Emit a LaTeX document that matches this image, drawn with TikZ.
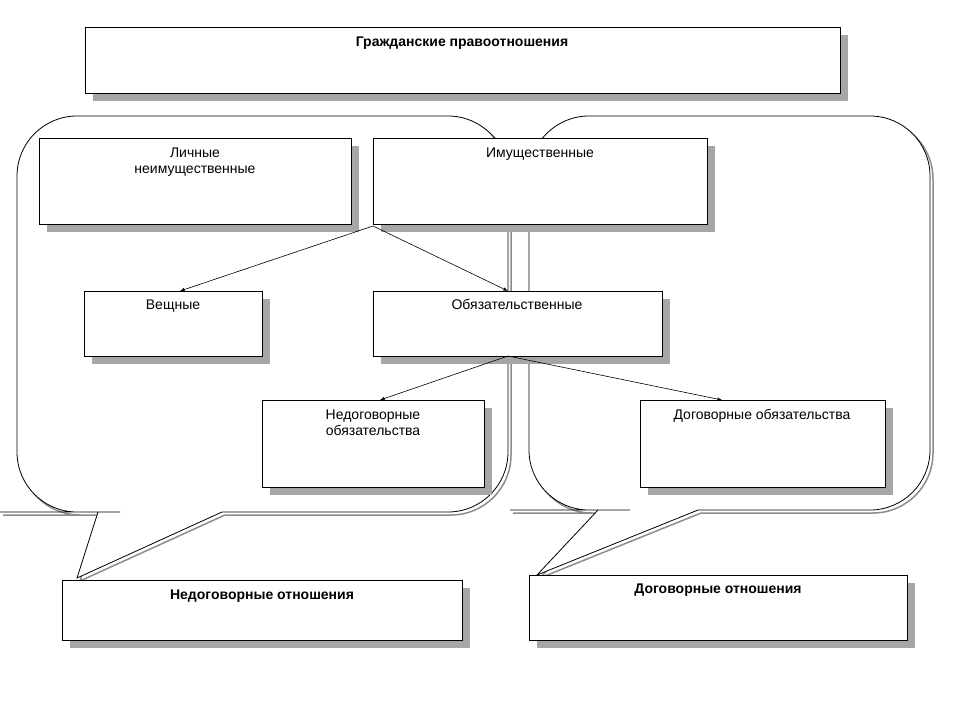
\documentclass[tikz,border=0pt]{standalone}
\usepackage{fontspec}
\setmainfont{Liberation Sans}
\begin{document}
\begin{tikzpicture}[x=1pt,y=-1pt,
  box/.style={draw,fill=white,line width=0.8pt},
  shad/.style={fill=black!35,draw=none},
  lbl/.style={anchor=north,align=center,font=\fontsize{14}{16}\selectfont},
  blbl/.style={anchor=north,align=center,font=\fontsize{14}{16}\selectfont\bfseries},
  arr/.style={-latex,line width=0.6pt},
  call/.style={line width=0.8pt,rounded corners=60}]
\useasboundingbox (0,0) rectangle (960,720);
% callouts
\draw[call,black!45,line width=1.5pt,shift={(3,3)}] (17,300) -- (17,512) -- (60,512) {[sharp corners] -- (98,512) -- (77,578) -- (222,512) -- (300,512)} -- (508,512) -- (508,116) -- (17,116) -- cycle;
\draw[call,fill=white] (17,300) -- (17,512) -- (60,512) {[sharp corners] -- (98,512) -- (77,578) -- (222,512) -- (300,512)} -- (508,512) -- (508,116) -- (17,116) -- cycle;
\draw[call,black!45,line width=1.5pt,shift={(3,3)}] (529,300) -- (529,510) -- (570,510) {[sharp corners] -- (598,510) -- (537,575) -- (698,510) -- (750,510)} -- (930,510) -- (930,116) -- (529,116) -- cycle;
\draw[call,fill=white] (529,300) -- (529,510) -- (570,510) {[sharp corners] -- (598,510) -- (537,575) -- (698,510) -- (750,510)} -- (930,510) -- (930,116) -- (529,116) -- cycle;
% boxes
\newcommand{\shbox}[6]{%
  \fill[shad] (#2+8,#3+8) rectangle (#4+8,#5+8);
  \draw[box] (#2,#3) rectangle (#4,#5);}
\shbox{t}{85}{27}{840}{93}{}
\node[blbl] (tt) at (462,33) {Гражданские правоотношения};
\shbox{l}{39}{138}{351}{224}{}
\node[lbl] (lt) at (195,144) {Личные\\неимущественные};
\shbox{i}{373}{138}{707}{224}{}
\node[lbl] (it) at (540,144) {Имущественные};
\shbox{v}{84}{291}{262}{356}{}
\node[lbl] (vt) at (173,296) {Вещные};
\shbox{o}{373}{291}{662}{356}{}
\node[lbl] (ot) at (517,296) {Обязательственные};
\shbox{n}{262}{400}{484}{487}{}
\node[lbl] (nt) at (373,406) {Недоговорные\\обязательства};
\shbox{d}{640}{400}{885}{487}{}
\node[lbl] (dt) at (762,406) {Договорные обязательства};
\shbox{nn}{62}{580}{462}{640}{}
\node[blbl] (nnt) at (262,586) {Недоговорные отношения};
\shbox{dd}{529}{575}{907}{640}{}
\node[blbl] (ddt) at (718,580) {Договорные отношения};
% arrows
\coordinate (ia) at (373,226);
\coordinate (va) at (180,291);
\coordinate (oa) at (508,291);
\coordinate (ob) at (508,356);
\coordinate (na) at (380,400);
\coordinate (da) at (722,400);
\draw[arr] (ia) -- (va);
\draw[arr] (ia) -- (oa);
\draw[arr] (ob) -- (na);
\draw[arr] (ob) -- (da);
\end{tikzpicture}
\end{document}
